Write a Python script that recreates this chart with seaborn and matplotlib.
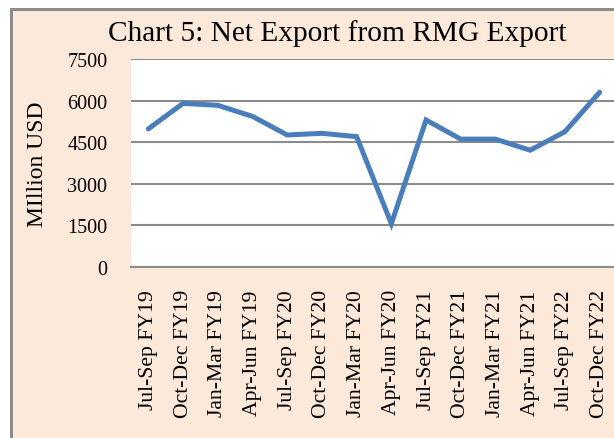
import matplotlib
matplotlib.use("Agg")
import matplotlib.pyplot as plt
import seaborn as sns
import pandas as pd
from matplotlib.patches import Rectangle

# quarters on the x axis
quarters = ["Jul-Sep FY19", "Oct-Dec FY19", "Jan-Mar FY19", "Apr-Jun FY19",
            "Jul-Sep FY20", "Oct-Dec FY20", "Jan-Mar FY20", "Apr-Jun FY20",
            "Jul-Sep FY21", "Oct-Dec FY21", "Jan-Mar FY21", "Apr-Jun FY21",
            "Jul-Sep FY22", "Oct-Dec FY22"]
# net export, million USD
net_export = [4980, 5900, 5830, 5430, 4760, 4820, 4700, 1560,
              5300, 4610, 4610, 4210, 4880, 6300]
y_ticks = [0, 1500, 3000, 4500, 6000, 7500]

sns.set_theme(style="white")
plt.rcParams["font.family"] = ["Liberation Serif", "DejaVu Serif"]
plt.rcParams["text.color"] = "black"
plt.rcParams["xtick.color"] = "black"
plt.rcParams["ytick.color"] = "black"
plt.rcParams["axes.labelcolor"] = "black"

W, H = 614, 439
fig = plt.figure(figsize=(W / 100, H / 100), dpi=100, facecolor="white")

# peach chart frame (runs off the right and bottom edges)
frame = Rectangle((11 / W, -0.1), 1.2, 1 - 10 / H + 0.1,
                  transform=fig.transFigure, facecolor="#FDE9DA",
                  edgecolor="#8C8C8C", linewidth=2.2, zorder=-5)
fig.patches.append(frame)

ax = fig.add_axes([131 / W, 1 - 268 / H, (617 - 131) / W, 208 / H])
ax.set_facecolor("white")
ax.set_zorder(1)

df = pd.DataFrame({"quarter": quarters, "value": net_export})
sns.lineplot(data=df, x="quarter", y="value", ax=ax, color="#4A7EBB",
             linewidth=3.6, sort=False, solid_capstyle="round",
             solid_joinstyle="miter")

ax.set_xlim(-0.5, len(quarters) - 0.5)
ax.set_ylim(0, 7500)
ax.set_yticks(y_ticks)
ax.set_yticklabels([str(t) for t in y_ticks], fontsize=14.5)
ax.set_xticks(range(len(quarters)))
ax.set_xticklabels(quarters, rotation=90, fontsize=15.6, va="top")
ax.tick_params(axis="y", length=0, pad=17)
ax.tick_params(axis="x", length=0, pad=16)
ax.grid(axis="y", color="#8C8C8C", linewidth=1.5)
ax.set_axisbelow(True)
for s in ["top", "left", "right"]:
    ax.spines[s].set_visible(False)
ax.spines["bottom"].set_color("#8C8C8C")
ax.spines["bottom"].set_linewidth(1.5)

ax.set_xlabel("")
ax.set_ylabel("MIllion USD", fontsize=17, labelpad=14)
fig.text(337 / W, 1 - 34 / H, "Chart 5: Net Export from RMG Export",
         fontsize=21.2, ha="center", va="center")

fig.savefig("out.png", dpi=100, facecolor=fig.get_facecolor())
